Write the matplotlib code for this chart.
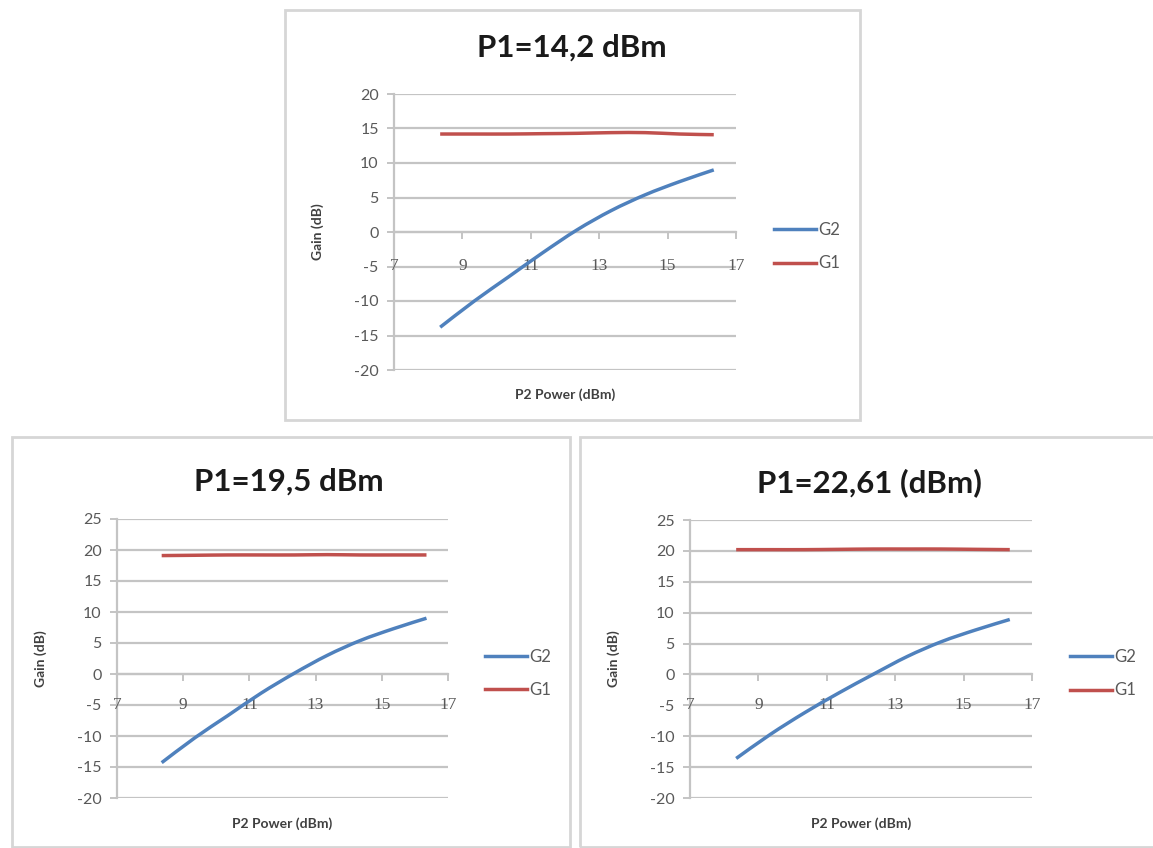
import matplotlib
matplotlib.use("Agg")
import matplotlib.pyplot as plt
from matplotlib.patches import Rectangle, PathPatch
from matplotlib.path import Path
from matplotlib.lines import Line2D

# ---- data -------------------------------------------------------------
p2_power = [8.35, 9.35, 10.35, 11.35, 12.35, 13.35, 14.35, 15.35, 16.35]

titles = ["P1=14,2 dBm", "P1=19,5 dBm", "P1=22,61 (dBm)"]

g2_p1_142 = [-13.8, -10.0, -6.5, -3.0, 0.3, 3.1, 5.4, 7.3, 9.0]
g1_p1_142 = [14.2, 14.2, 14.2, 14.25, 14.3, 14.4, 14.4, 14.2, 14.1]

g2_p1_195 = [-14.3, -10.3, -6.7, -3.1, 0.1, 3.0, 5.4, 7.3, 9.0]
g1_p1_195 = [19.1, 19.15, 19.2, 19.2, 19.2, 19.25, 19.2, 19.2, 19.2]

g2_p1_2261 = [-13.6, -9.7, -6.2, -3.0, 0.0, 2.9, 5.3, 7.2, 8.9]
g1_p1_2261 = [20.2, 20.2, 20.2, 20.25, 20.3, 20.3, 20.3, 20.25, 20.2]

x_ticks = [7, 9, 11, 13, 15, 17]
y_ticks_top = [-20, -15, -10, -5, 0, 5, 10, 15, 20]
y_ticks_bottom = [-20, -15, -10, -5, 0, 5, 10, 15, 20, 25]

# ---- styling ----------------------------------------------------------
W, H = 1153, 848
BLUE = "#4F81BD"
RED = "#C0504D"
GRID = "#c4c4c4"
TICK = "#595959"
BOX = "#d6d6d6"
FONT = "Lato"
LW = 2.5

fig = plt.figure(figsize=(W / 100, H / 100), dpi=100)
fig.patch.set_facecolor("white")


def fx(px):
    return px / W


def fy(py):
    return 1 - py / H


def frame(x0, y0, x1, y1):
    fig.patches.append(Rectangle((fx(x0), fy(y1)), fx(x1) - fx(x0), fy(y0) - fy(y1),
                                 transform=fig.transFigure, fill=False,
                                 edgecolor=BOX, linewidth=2, zorder=0))


def smooth_line(ax, xs, ys, color):
    """Smoothed polyline through the points (Catmull-Rom segments as cubic Beziers)."""
    pts = list(zip(xs, ys))
    verts = [pts[0]]
    codes = [Path.MOVETO]
    n = len(pts)
    for i in range(n - 1):
        p0 = pts[i - 1] if i > 0 else pts[i]
        p1 = pts[i]
        p2 = pts[i + 1]
        p3 = pts[i + 2] if i + 2 < n else pts[i + 1]
        c1 = (p1[0] + (p2[0] - p0[0]) / 6, p1[1] + (p2[1] - p0[1]) / 6)
        c2 = (p2[0] - (p3[0] - p1[0]) / 6, p2[1] - (p3[1] - p1[1]) / 6)
        verts += [c1, c2, p2]
        codes += [Path.CURVE4] * 3
    ax.add_patch(PathPatch(Path(verts, codes), facecolor="none", edgecolor=color,
                           linewidth=LW, capstyle="butt", joinstyle="round", zorder=4))


def panel(box, title, title_xy, g2, g1, yticks, ylab_x):
    left, top, right, bottom = box
    ax = fig.add_axes([fx(left), fy(bottom), fx(right) - fx(left), fy(top) - fy(bottom)])
    ax.set_xlim(7, 17)
    ax.set_ylim(yticks[0], yticks[-1])
    ax.set_facecolor("none")

    # horizontal gridlines and y axis
    ax.set_yticks(yticks)
    ax.set_yticklabels([str(v) for v in yticks], fontsize=11.5, color=TICK, family=FONT)
    ax.grid(axis="y", color=GRID, linewidth=1.6)
    ax.tick_params(axis="y", length=5, width=1.4, color=GRID, pad=6)
    ax.spines["left"].set_color(GRID)
    ax.spines["left"].set_linewidth(1.6)
    for s in ("top", "right"):
        ax.spines[s].set_visible(False)

    # x axis crosses at zero; labels sit at the -5 level
    ax.spines["bottom"].set_position(("data", 0))
    ax.spines["bottom"].set_color(GRID)
    ax.spines["bottom"].set_linewidth(1.6)
    ax.set_xticks(x_ticks)
    ax.set_xticklabels([])
    ax.tick_params(axis="x", direction="out", length=5, width=1.4, color=GRID)
    for xv in x_ticks:
        ax.text(xv, -5, str(xv), ha="center", va="center", fontsize=12.5,
                color=TICK, family="Liberation Serif", zorder=3)

    smooth_line(ax, p2_power, g2, BLUE)
    smooth_line(ax, p2_power, g1, RED)

    ax.set_ylabel("Gain (dB)", fontsize=10, fontweight="bold", color="#404040", family=FONT)
    ax.yaxis.set_label_coords(ylab_x, 0.5)
    ax.set_xlabel("P2 Power (dBm)", fontsize=10, fontweight="bold", color="#404040", family=FONT)
    ax.xaxis.set_label_coords(0.5, -0.068)

    handles = [Line2D([], [], color=BLUE, linewidth=LW),
               Line2D([], [], color=RED, linewidth=LW)]
    leg = ax.legend(handles, ["G2", "G1"], loc="center left",
                    bbox_to_anchor=(1.112, 0.447), frameon=False,
                    prop={"family": FONT, "size": 12},
                    handlelength=2.5, handletextpad=0.15, labelspacing=1.05,
                    borderpad=0, borderaxespad=0)
    for t in leg.get_texts():
        t.set_color(TICK)

    fig.text(fx(title_xy[0]), fy(title_xy[1]), title, ha="center", va="center",
             fontsize=22.5, fontweight="bold", color="#1a1a1a", family=FONT)
    return ax


# panel frames
frame(285, 10, 860, 420)
frame(12, 437, 570, 847)
frame(580, 437, 1160, 847)

panel((394, 94, 736, 370), titles[0], (572, 48), g2_p1_142, g1_p1_142, y_ticks_top, -0.205)
panel((117, 519, 448, 798), titles[1], (289, 482), g2_p1_195, g1_p1_195, y_ticks_bottom, -0.211)
panel((690, 520, 1032, 798), titles[2], (869, 483), g2_p1_2261, g1_p1_2261, y_ticks_bottom, -0.205)

fig.savefig("out.png", dpi=100, facecolor="white")
